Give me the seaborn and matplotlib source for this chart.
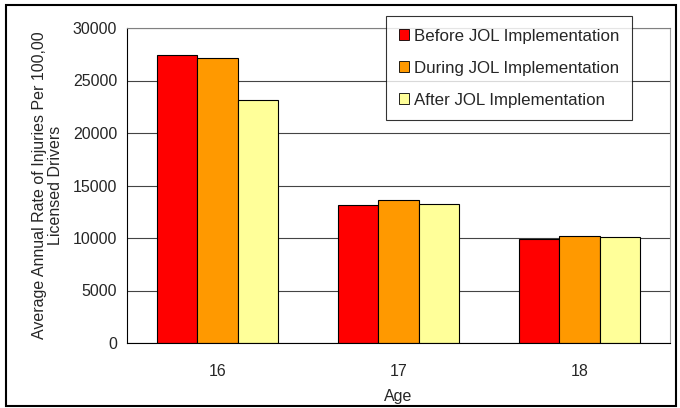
import matplotlib
matplotlib.use("Agg")
import matplotlib.pyplot as plt
import seaborn as sns
import pandas as pd
from matplotlib.patches import Rectangle

ages = ["16", "17", "18"]
periods = ["Before JOL Implementation", "During JOL Implementation", "After JOL Implementation"]
before = [27400, 13100, 9900]
during = [27100, 13600, 10200]
after = [23100, 13200, 10050]
colors = ["#FF0000", "#FF9900", "#FFFF99"]
yticks = [0, 5000, 10000, 15000, 20000, 25000, 30000]

rows = []
for p, vals in zip(periods, [before, during, after]):
    for a, v in zip(ages, vals):
        rows.append({"Age": a, "Period": p, "Value": v})
df = pd.DataFrame(rows)

sns.set_style("white")
plt.rcParams["font.family"] = ["Liberation Sans", "DejaVu Sans"]
FS = 11.5

fig = plt.figure(figsize=(6.8, 4.08), dpi=100)
ax = fig.add_axes([127/680, 1-343/408, (670-127)/680, (343-28)/408])

sns.barplot(data=df, x="Age", y="Value", hue="Period", palette=colors,
            edgecolor="black", linewidth=0.8, width=0.663, ax=ax, saturation=1)

ax.set_ylim(0, 30000)
ax.set_xlim(-0.5, 2.5)
ax.set_yticks(yticks)
ax.set_yticklabels([str(t) for t in yticks], fontsize=FS)
ax.yaxis.grid(True, color="#444444", linewidth=0.8)
ax.set_axisbelow(True)
ax.set_xticks([-0.5, 0.5, 1.5, 2.5], minor=False)
ax.set_xticklabels([])
ax.set_xticks([0, 1, 2], minor=True)
ax.set_xticklabels(ages, minor=True, fontsize=FS)
ax.tick_params(axis="x", which="major", direction="out", length=4, color="black", width=0.8)
ax.tick_params(axis="x", which="minor", length=0, pad=15)
ax.tick_params(axis="y", direction="out", length=4, color="black", width=0.8, pad=3)
ax.set_xlabel("Age", fontsize=FS, labelpad=7)
ax.set_ylabel("Average Annual Rate of Injuries Per 100,00\nLicensed Drivers", fontsize=FS,
              labelpad=7, linespacing=1.1)

ax.spines["top"].set_color("#808080")
ax.spines["right"].set_color("#A0A0A0")
ax.spines["left"].set_color("black")
ax.spines["bottom"].set_color("black")
for s in ax.spines.values():
    s.set_linewidth(0.8)

leg = ax.legend(loc="upper left", bbox_to_anchor=((386-127)/543, (343-16)/315),
                frameon=True, fancybox=False, edgecolor="black", fontsize=12.2,
                handlelength=0.6, handleheight=0.6, labelspacing=1.0,
                borderpad=0.75, handletextpad=0.3, borderaxespad=0)
leg.get_frame().set_linewidth(0.8)
for h in leg.legend_handles:
    h.set_edgecolor("black")
    h.set_linewidth(0.6)

fig.patches.append(Rectangle((6/680, 2/408), 670/680, 401/408, transform=fig.transFigure,
                             fill=False, edgecolor="black", linewidth=1.5))

fig.savefig("out.png", dpi=100)
